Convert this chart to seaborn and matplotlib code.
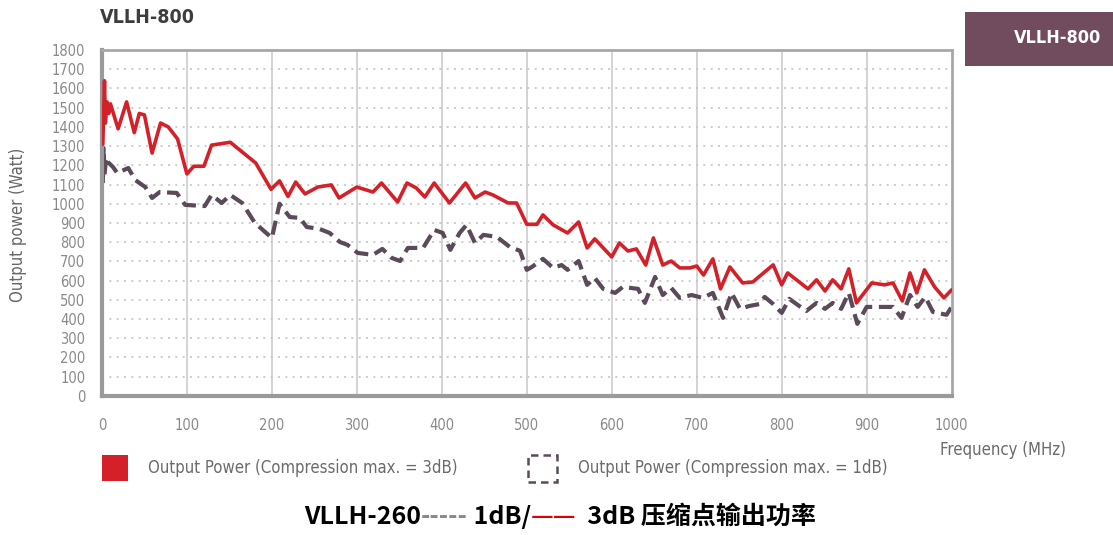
import numpy as np
import pandas as pd
import seaborn as sns
import matplotlib
matplotlib.use("Agg")
import matplotlib.pyplot as plt
from matplotlib.patches import Rectangle
from matplotlib.offsetbox import TextArea, HPacker, AnchoredOffsetbox

# 3dB compression curve (red)
red_freq = [1, 3, 4, 6, 8, 10, 19, 29, 38, 44, 50, 59, 69, 78, 89, 100, 108, 120, 129, 151,
            181, 199, 209, 219, 228, 239, 254, 270, 279, 300, 319, 329, 348, 359, 370, 380,
            391, 409, 428, 439, 451, 460, 478, 488, 500, 512, 519, 531, 548, 561, 571, 580,
            600, 609, 619, 629, 640, 649, 660, 670, 680, 692, 700, 708, 719, 728, 739, 754,
            766, 790, 800, 807, 831, 841, 851, 860, 870, 879, 888, 906, 921, 931, 942, 951,
            959, 968, 980, 991, 1000]
red_power = [1310, 1640, 1420, 1530, 1470, 1520, 1390, 1530, 1370, 1470, 1462, 1264, 1420,
             1400, 1337, 1155, 1195, 1195, 1305, 1320, 1212, 1075, 1119, 1038, 1113, 1051,
             1087, 1098, 1030, 1087, 1061, 1108, 1009, 1108, 1082, 1035, 1108, 1004, 1108,
             1030, 1061, 1046, 1004, 1004, 893, 893, 942, 890, 848, 905, 770, 817, 723, 796,
             754, 765, 681, 822, 681, 702, 666, 666, 676, 629, 713, 557, 671, 588, 593, 682,
             578, 640, 557, 604, 546, 604, 557, 661, 484, 588, 578, 588, 494, 640, 536, 656,
             567, 510, 552]

# 1dB compression curve (dashed)
grey_freq = [1, 2, 3, 5, 7, 13, 18, 31, 39, 51, 59, 68, 88, 98, 121, 129, 141, 151, 165, 180,
             200, 209, 221, 233, 241, 256, 268, 280, 289, 301, 319, 330, 341, 351, 360, 378,
             391, 401, 410, 421, 429, 439, 449, 465, 480, 492, 500, 506, 519, 531, 541, 548,
             561, 571, 580, 590, 604, 613, 631, 639, 651, 660, 670, 680, 694, 707, 719, 731,
             741, 751, 762, 774, 780, 790, 800, 809, 819, 829, 841, 851, 860, 870, 879, 889,
             900, 931, 941, 951, 960, 969, 978, 994, 1000]
grey_power = [1108, 1290, 1150, 1240, 1217, 1191, 1160, 1186, 1124, 1087, 1030, 1061, 1056,
              994, 988, 1046, 1004, 1046, 1004, 900, 822, 1000, 931, 926, 879, 869, 848, 801,
              786, 744, 734, 765, 718, 702, 770, 770, 864, 848, 760, 848, 890, 796, 838, 827,
              775, 755, 656, 671, 713, 666, 681, 656, 702, 578, 614, 557, 536, 567, 557, 484,
              619, 525, 562, 510, 525, 510, 536, 406, 536, 453, 468, 478, 515, 478, 432, 505,
              473, 442, 484, 453, 484, 453, 536, 375, 463, 463, 406, 525, 463, 515, 437, 422,
              463]

x_ticks = list(range(0, 1001, 100))
y_ticks = list(range(0, 1801, 100))

RED = "#d42129"
GREY = "#5b4a5a"
MAUVE = "#704c5e"

sns.set_style("white")
plt.rcParams["font.family"] = ["DejaVu Sans"]
plt.rcParams["font.stretch"] = "condensed"

red_df = pd.DataFrame({"freq": red_freq, "power": red_power})
grey_df = pd.DataFrame({"freq": grey_freq, "power": grey_power})

fig = plt.figure(figsize=(11.13, 5.35), dpi=100)
ax = fig.add_axes([0.0916, 0.26, 0.855 - 0.0916, 0.9065 - 0.26])

# grid
for x in x_ticks[1:-1]:
    ax.axvline(x, color="#c8c8c8", lw=1.1, zorder=0)
for y in y_ticks[1:]:
    ax.axhline(y, color="#c4c4c4", lw=1.2, ls=(0, (1.2, 3.2)), zorder=0)

sns.lineplot(data=grey_df, x="freq", y="power", ax=ax, sort=False, estimator=None,
             color=GREY, lw=3, dashes=False, zorder=2)
ax.lines[-1].set_dashes([3.4, 1.6])
sns.lineplot(data=red_df, x="freq", y="power", ax=ax, sort=False, estimator=None,
             color=RED, lw=2.6, zorder=3)

ax.set_xlim(0, 1000)
ax.set_ylim(0, 1800)
ax.set_xticks(x_ticks)
ax.set_yticks(y_ticks)
ax.set_xlabel("")
ax.set_ylabel("")
ax.tick_params(length=0, labelsize=10.5, labelcolor="#8a8a8a")
ax.tick_params(axis="x", pad=16)
ax.tick_params(axis="y", pad=12)
for side in ["left", "bottom"]:
    ax.spines[side].set_color("#9a9a9a")
    ax.spines[side].set_linewidth(3)
for side in ["top", "right"]:
    ax.spines[side].set_color("#a8a8a8")
    ax.spines[side].set_linewidth(2)

# texts
fig.text(0.0898, 0.968, "VLLH-800", fontsize=14, fontweight="bold", color="#3d3d3d",
         va="center", ha="left")
fig.text(0.016, 0.579, "Output power (Watt)", rotation=90, fontsize=12, color="#666666",
         va="center", ha="center")
fig.text(0.901, 0.159, "Frequency (MHz)", fontsize=12, color="#6a6a6a",
         va="center", ha="center")

# top right tag
fig.patches.append(Rectangle((0.867, 0.8766), 0.135, 0.101, transform=fig.transFigure,
                             facecolor=MAUVE, edgecolor="none"))
fig.text(0.9506, 0.929, "VLLH-800", fontsize=13, fontweight="bold", color="white",
         va="center", ha="center")

# legend
fig.patches.append(Rectangle((0.0916, 0.101), 0.0234, 0.0486, transform=fig.transFigure,
                             facecolor=RED, edgecolor="none"))
fig.text(0.133, 0.125, "Output Power (Compression max. = 3dB)", fontsize=12,
         color="#6a6a6a", va="center", ha="left")
fig.patches.append(Rectangle((0.4744, 0.0991), 0.026, 0.0505, transform=fig.transFigure,
                             facecolor="none", edgecolor=GREY, lw=1.8, ls=(0, (3, 2))))
fig.text(0.519, 0.125, "Output Power (Compression max. = 1dB)", fontsize=12,
         color="#6a6a6a", va="center", ha="left")

# caption
cap_font = ["Noto Sans CJK SC", "DejaVu Sans"]
parts = [("VLLH-260", "black"), ("-----", "#888888"), (" 1dB/", "black"),
         ("——", "#e00000"), ("  3dB 压缩点输出功率", "black")]
areas = [TextArea(t, textprops=dict(color=c, fontsize=18, fontweight="bold",
                                    family=cap_font)) for t, c in parts]
box = HPacker(children=areas, pad=0, sep=0, align="baseline")
anchored = AnchoredOffsetbox(loc="center", child=box, frameon=False,
                             bbox_to_anchor=(0.503, 0.034), bbox_transform=fig.transFigure,
                             borderpad=0, pad=0)
fig.add_artist(anchored)

fig.savefig("out.png", dpi=100)
